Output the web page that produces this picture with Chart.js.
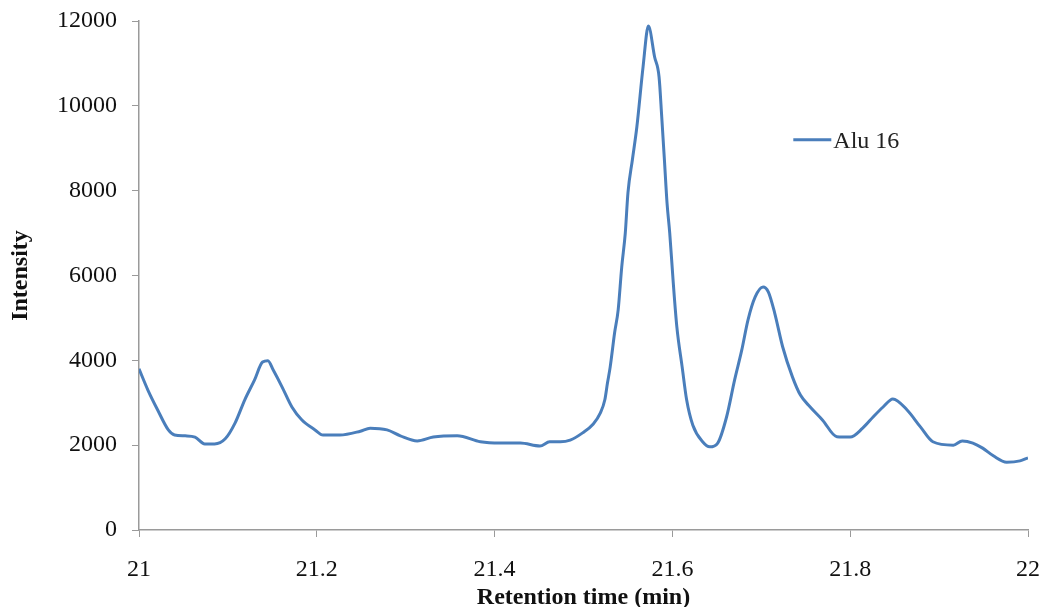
<!DOCTYPE html>
<html>
<head>
<meta charset="utf-8">
<script src="https://cdn.jsdelivr.net/npm/chart.js@4"></script>
<style>
  html, body { margin: 0; padding: 0; background: #fff; }
  #wrap { width: 1044px; height: 607px; }
</style>
</head>
<body>
<div id="wrap"><canvas id="chromChart"></canvas></div>
<script>
// retention time (min)
const times = [
    21.000, 21.010, 21.021, 21.033, 21.040, 21.052, 21.063, 21.074, 21.085, 21.097,
    21.108, 21.119, 21.130, 21.139, 21.145, 21.151, 21.161, 21.172, 21.183, 21.198,
    21.207, 21.226, 21.249, 21.260, 21.279, 21.294, 21.313, 21.331, 21.358, 21.384,
    21.406, 21.429, 21.451, 21.462, 21.474, 21.485, 21.499, 21.511, 21.519, 21.524,
    21.527, 21.530, 21.535, 21.539, 21.543, 21.547, 21.550, 21.555, 21.560, 21.567,
    21.573, 21.580, 21.585, 21.588, 21.591, 21.594, 21.597, 21.601, 21.605, 21.611,
    21.616, 21.623, 21.634, 21.642, 21.651, 21.661, 21.670, 21.678, 21.685, 21.693,
    21.702, 21.708, 21.715, 21.724, 21.735, 21.744, 21.755, 21.769, 21.785, 21.800,
    21.814, 21.826, 21.837, 21.848, 21.864, 21.879, 21.893, 21.916, 21.926, 21.938,
    21.949, 21.961, 21.976, 21.991, 22.000
];

const intensity = [
    3800, 3300, 2830, 2360, 2240, 2220, 2190, 2030, 2030, 2150,
    2520, 3070, 3540, 3960, 3990, 3770, 3370, 2900, 2600, 2360,
    2240, 2240, 2330, 2400, 2360, 2220, 2100, 2190, 2220, 2080,
    2050, 2050, 1980, 2080, 2080, 2120, 2290, 2500, 2760, 3070,
    3470, 3840, 4650, 5190, 6200, 7000, 7950, 8730, 9500, 10920,
    11880, 11150, 10680, 9740, 8730, 7700, 7000, 5820, 4790, 3840,
    3070, 2470, 2080, 1960, 2050, 2670, 3540, 4240, 4950, 5490,
    5730, 5610, 5120, 4320, 3610, 3180, 2900, 2590, 2200, 2190,
    2400, 2670, 2900, 3090, 2830, 2430, 2080, 2000, 2100, 2050,
    1930, 1750, 1600, 1630, 1700
];

const seriesName = 'Alu 16';
const lineColor = '#4a7ebb';
const axisColor = '#9a9a9a';
const serif = "'Liberation Serif', 'Times New Roman', serif";

// legend sits inside the plot, Excel style
const legendInside = {
    id: 'legendInside',
    afterDraw(chart) {
        const ctx = chart.ctx;
        const ds = chart.data.datasets[0];
        const x = chart.scales.x.getPixelForValue(21.736);
        const y = chart.scales.y.getPixelForValue(9200);
        ctx.save();
        ctx.strokeStyle = ds.borderColor;
        ctx.lineWidth = 3;
        ctx.beginPath();
        ctx.moveTo(x, y);
        ctx.lineTo(x + 38, y);
        ctx.stroke();
        ctx.fillStyle = '#222';
        ctx.font = '24px ' + serif;
        ctx.textBaseline = 'middle';
        ctx.fillText(ds.label, x + 40, y + 2);
        ctx.restore();
    }
};

const chartData = {
    datasets: [{
        label: seriesName,
        data: times.map((t, i) => ({ x: t, y: intensity[i] })),
        borderColor: lineColor,
        backgroundColor: lineColor,
        borderWidth: 3,
        pointRadius: 0,
        cubicInterpolationMode: 'monotone',
        fill: false
    }]
};

const chartConfig = {
    type: 'line',
    data: chartData,
    plugins: [legendInside],
    options: {
        responsive: true,
        maintainAspectRatio: false,
        animation: false,
        layout: { padding: { top: 21, right: 16, left: 0, bottom: 0 } },
        plugins: {
            legend: { display: false },
            tooltip: { enabled: false }
        },
        scales: {
            x: {
                type: 'linear',
                min: 21,
                max: 22,
                afterFit: (s) => { s.height = 77; s.paddingLeft = 0; s.paddingRight = 0; },
                border: { display: true, color: axisColor, width: 1.5 },
                grid: { drawOnChartArea: false, drawTicks: true, tickLength: 7, color: axisColor },
                ticks: {
                    stepSize: 0.2,
                    padding: 18,
                    color: '#111',
                    font: { family: serif, size: 24 },
                    maxRotation: 0,
                    callback: (v) => String(Number(v.toFixed(1)))
                },
                title: {
                    display: true,
                    text: 'Retention time (min)',
                    color: '#111',
                    font: { family: serif, size: 24, weight: 'bold', lineHeight: 1 },
                    padding: { top: 0, bottom: -3 }
                }
            },
            y: {
                min: 0,
                max: 12000,
                afterFit: (s) => { s.width = 139; s.paddingTop = 0; s.paddingBottom = 0; },
                border: { display: true, color: axisColor, width: 1.5 },
                grid: { drawOnChartArea: false, drawTicks: true, tickLength: 7, color: axisColor },
                ticks: {
                    stepSize: 2000,
                    padding: 15,
                    color: '#111',
                    font: { family: serif, size: 24 },
                    callback: (v) => String(v)
                },
                title: {
                    display: true,
                    text: 'Intensity',
                    color: '#111',
                    font: { family: serif, size: 24, weight: 'bold' },
                    padding: { top: 6, bottom: 0 }
                }
            }
        }
    }
};

const chromChart = new Chart(document.getElementById('chromChart'), chartConfig);
</script>
</body>
</html>
